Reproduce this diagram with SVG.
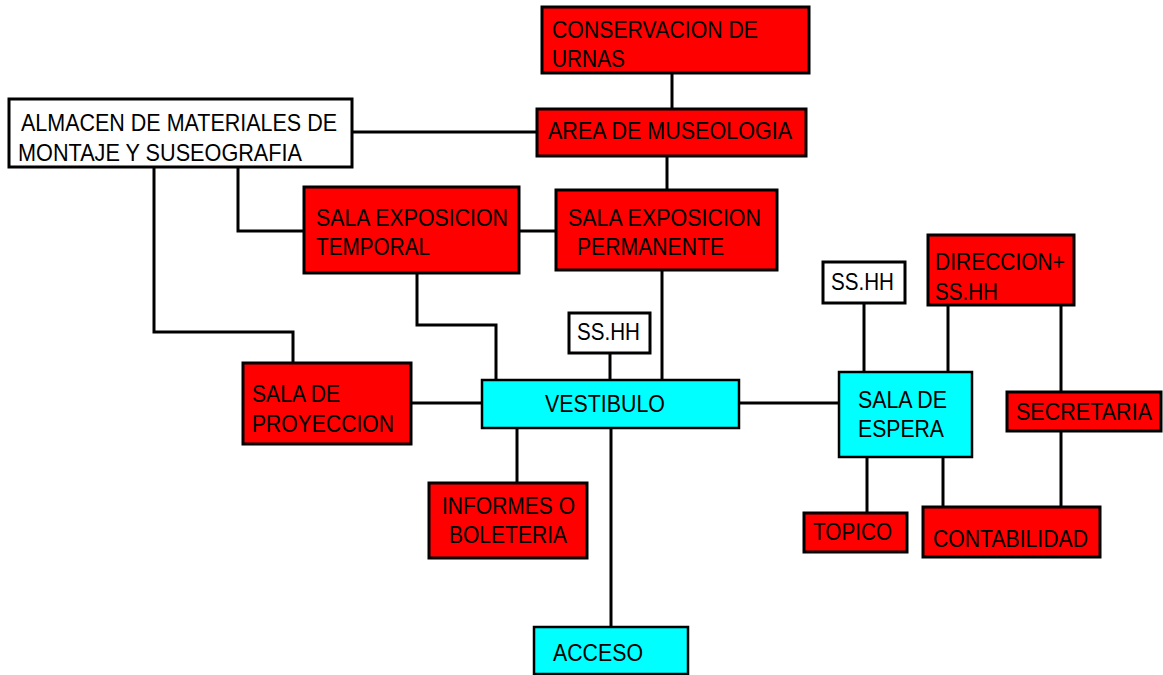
<svg xmlns="http://www.w3.org/2000/svg" width="1163" height="675" viewBox="0 0 1163 675">
<style>
.red{fill:#ff0000;stroke:#000;stroke-width:3}
.cyan{fill:#00ffff;stroke:#000;stroke-width:2.5}
.white{fill:#fff;stroke:#000;stroke-width:3}
text{font-family:"Liberation Sans",Arial,sans-serif;font-size:24px;fill:#000}
.c{fill:none;stroke:#000;stroke-width:3}
</style>
<rect width="1163" height="675" fill="#fff"/>
<g id="connectors">
<path class="c" d="M672 73V109"/>
<path class="c" d="M667 156V190"/>
<path class="c" d="M352 132H537"/>
<path class="c" d="M154 167V332H293V363"/>
<path class="c" d="M238 167V231H304"/>
<path class="c" d="M519 231H556"/>
<path class="c" d="M417 273V325H496V380"/>
<path class="c" d="M662 270V380"/>
<path class="c" d="M610 353V380"/>
<path class="c" d="M411 403H482"/>
<path class="c" d="M739 403H839"/>
<path class="c" d="M517 428V483"/>
<path class="c" d="M611 428V627"/>
<path class="c" d="M864 303V372"/>
<path class="c" d="M948 305V372"/>
<path class="c" d="M1061 305V392"/>
<path class="c" d="M1061 431V507"/>
<path class="c" d="M867 457V513"/>
<path class="c" d="M943 457V507"/>
</g>
<g id="conservacion"><rect class="red" x="542" y="7" width="267" height="66"/>
<text x="552" y="38" textLength="206" lengthAdjust="spacingAndGlyphs">CONSERVACION DE</text>
<text x="552" y="67" textLength="73" lengthAdjust="spacingAndGlyphs">URNAS</text></g>
<g id="museologia"><rect class="red" x="537" y="109" width="269" height="47"/>
<text x="548" y="139" textLength="244" lengthAdjust="spacingAndGlyphs">AREA DE MUSEOLOGIA</text></g>
<g id="almacen"><rect class="white" x="9" y="99" width="343" height="68"/>
<text x="21" y="131" textLength="316" lengthAdjust="spacingAndGlyphs">ALMACEN DE MATERIALES DE</text>
<text x="18" y="161" textLength="284" lengthAdjust="spacingAndGlyphs">MONTAJE Y SUSEOGRAFIA</text></g>
<g id="temporal"><rect class="red" x="304" y="187" width="215" height="86"/>
<text x="316" y="226" textLength="192" lengthAdjust="spacingAndGlyphs">SALA EXPOSICION</text>
<text x="316" y="255" textLength="114" lengthAdjust="spacingAndGlyphs">TEMPORAL</text></g>
<g id="permanente"><rect class="red" x="556" y="190" width="221" height="80"/>
<text x="568" y="226" textLength="193" lengthAdjust="spacingAndGlyphs">SALA EXPOSICION</text>
<text x="577" y="255" textLength="147" lengthAdjust="spacingAndGlyphs">PERMANENTE</text></g>
<g id="sshh1"><rect class="white" x="569" y="313" width="81" height="40"/>
<text x="577" y="340" textLength="63" lengthAdjust="spacingAndGlyphs">SS.HH</text></g>
<g id="vestibulo"><rect class="cyan" x="482" y="380" width="257" height="48"/>
<text x="545" y="412" textLength="120" lengthAdjust="spacingAndGlyphs">VESTIBULO</text></g>
<g id="proyeccion"><rect class="red" x="243" y="363" width="168" height="81"/>
<text x="252" y="402" textLength="88" lengthAdjust="spacingAndGlyphs">SALA DE</text>
<text x="252" y="432" textLength="142" lengthAdjust="spacingAndGlyphs">PROYECCION</text></g>
<g id="informes"><rect class="red" x="429" y="483" width="158" height="75"/>
<text x="442" y="514" textLength="133" lengthAdjust="spacingAndGlyphs">INFORMES O</text>
<text x="449" y="543" textLength="118" lengthAdjust="spacingAndGlyphs">BOLETERIA</text></g>
<g id="acceso"><rect class="cyan" x="534" y="627" width="154" height="47"/>
<text x="553" y="661" textLength="90" lengthAdjust="spacingAndGlyphs">ACCESO</text></g>
<g id="sshh2"><rect class="white" x="823" y="262" width="82" height="41"/>
<text x="831" y="290" textLength="63" lengthAdjust="spacingAndGlyphs">SS.HH</text></g>
<g id="direccion"><rect class="red" x="928" y="235" width="146" height="70"/>
<text x="935" y="270" textLength="130" lengthAdjust="spacingAndGlyphs">DIRECCION+</text>
<text x="935" y="300" textLength="63" lengthAdjust="spacingAndGlyphs">SS.HH</text></g>
<g id="espera"><rect class="cyan" x="839" y="372" width="133" height="85"/>
<text x="858" y="408" textLength="89" lengthAdjust="spacingAndGlyphs">SALA DE</text>
<text x="858" y="437" textLength="86" lengthAdjust="spacingAndGlyphs">ESPERA</text></g>
<g id="secretaria"><rect class="red" x="1007" y="392" width="154" height="39"/>
<text x="1016" y="420" textLength="136" lengthAdjust="spacingAndGlyphs">SECRETARIA</text></g>
<g id="topico"><rect class="red" x="804" y="513" width="103" height="39"/>
<text x="813" y="540" textLength="79" lengthAdjust="spacingAndGlyphs">TOPICO</text></g>
<g id="contabilidad"><rect class="red" x="923" y="507" width="177" height="50"/>
<text x="933" y="547" textLength="155" lengthAdjust="spacingAndGlyphs">CONTABILIDAD</text></g>
</svg>
